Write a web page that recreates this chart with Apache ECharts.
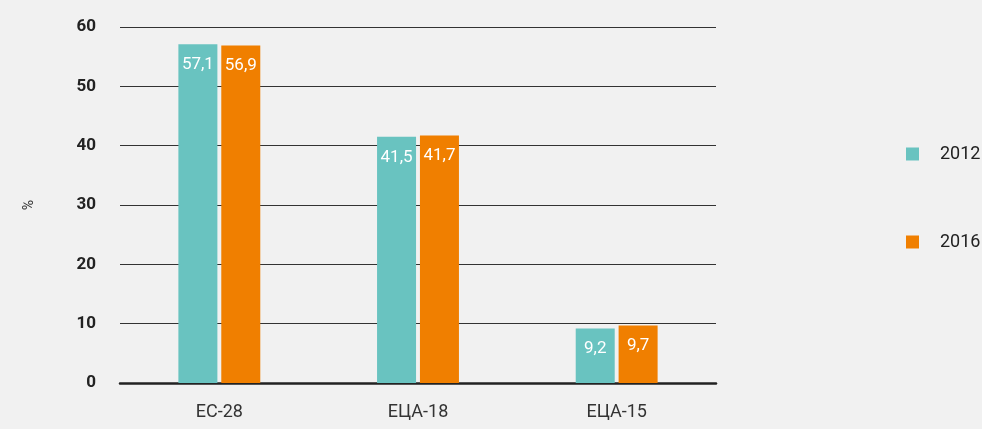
<!DOCTYPE html>
<html><head><meta charset="utf-8">
<script src="https://cdn.jsdelivr.net/npm/echarts@6/dist/echarts.min.js"></script>
<style>html,body{margin:0;padding:0;background:#f1f1f1}#c{width:982px;height:429px}</style>
</head><body><div id="c"></div>
<script>
const categories = ['ЕС-28', 'ЕЦА-18', 'ЕЦА-15'];
const seriesNames = ['2012', '2016'];
const values2012 = [57.1, 41.5, 9.2];
const values2016 = [56.9, 41.7, 9.7];
const yTicks = [0, 10, 20, 30, 40, 50, 60];
const colors = ['#69c3c0', '#f07f00'];
const FONT = 'Roboto, sans-serif';

const chart = echarts.init(document.getElementById('c'));
const lbl = {
  show: true, position: 'insideTop', distance: 12, color: '#fff',
  fontFamily: FONT, fontSize: 17,
  formatter: p => String(p.value).replace('.', ',')
};
chart.setOption({
  backgroundColor: '#f1f1f1',
  animation: false,
  grid: { left: 120, right: 266, top: 27, bottom: 46 },
  legend: {
    orient: 'vertical', left: 901, top: 140, itemGap: 70,
    itemWidth: 13, itemHeight: 13, icon: 'rect',
    textStyle: { fontFamily: FONT, fontSize: 18, color: '#222', padding: [0, 0, 0, 16] },
    data: seriesNames
  },
  xAxis: {
    type: 'category', data: categories,
    axisLine: { lineStyle: { color: '#222', width: 2.5 } },
    axisTick: { show: false },
    axisLabel: { fontFamily: FONT, fontSize: 18, color: '#333', margin: 20 }
  },
  yAxis: {
    type: 'value', min: yTicks[0], max: yTicks[yTicks.length - 1], interval: 10,
    name: '%', nameLocation: 'middle', nameGap: 84, nameRotate: 90,
    nameTextStyle: { fontFamily: FONT, fontSize: 14, color: '#333' },
    axisLine: { show: false }, axisTick: { show: false },
    splitLine: { lineStyle: { color: '#333', width: 1 } },
    axisLabel: { fontFamily: FONT, fontSize: 17, fontWeight: 'bold', color: '#222', margin: 24, padding: [0, 0, 6, 0] }
  },
  series: [
    { name: seriesNames[0], type: 'bar', data: values2012, barWidth: 39, barGap: '10%',
      itemStyle: { color: colors[0] }, label: lbl },
    { name: seriesNames[1], type: 'bar', data: values2016, barWidth: 39,
      itemStyle: { color: colors[1] }, label: lbl }
  ]
});
</script></body></html>
